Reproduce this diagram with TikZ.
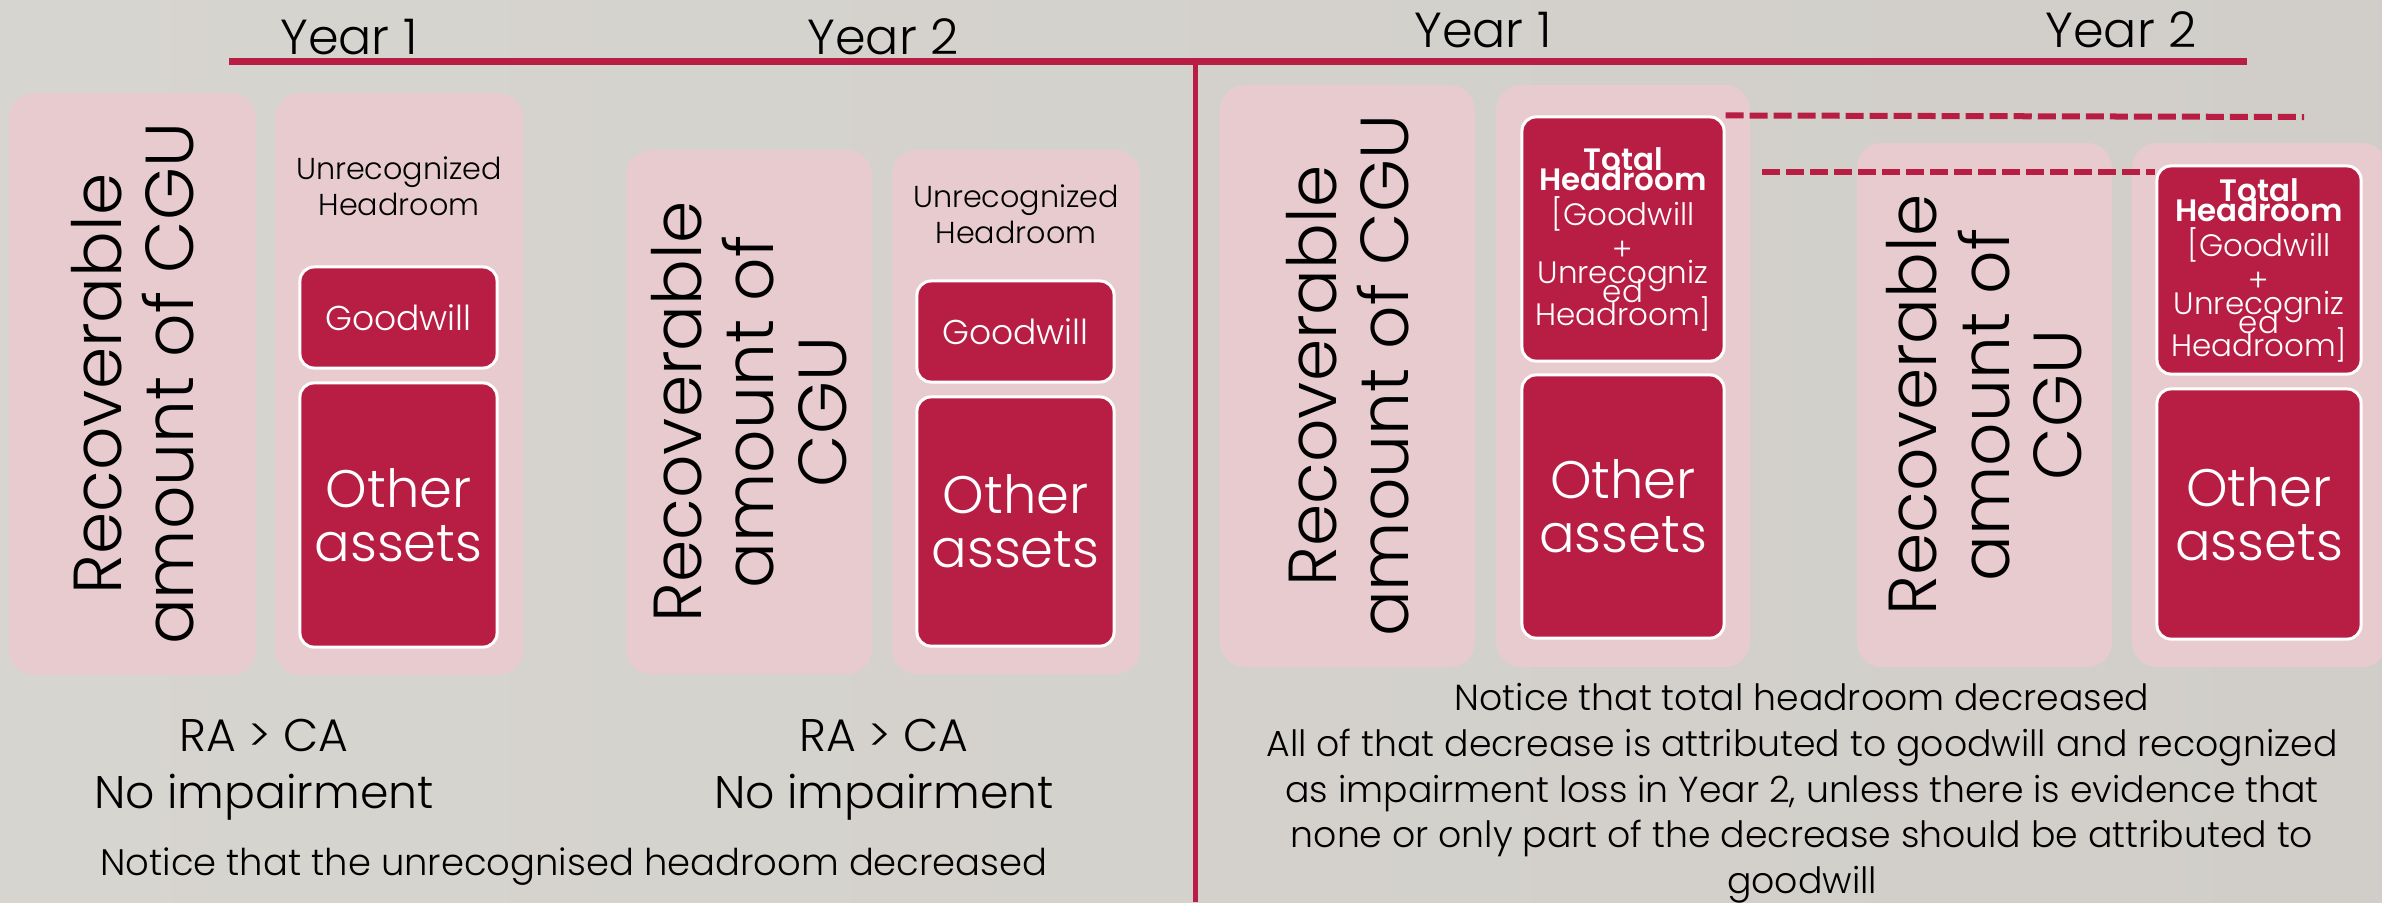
\documentclass[tikz,border=0pt]{standalone}
\usepackage{fontspec}
\setmainfont{Poppins}[UprightFont=* Light, BoldFont=* SemiBold]
\definecolor{crimson}{RGB}{184,30,67}
\definecolor{blush}{RGB}{231,203,207}
\definecolor{paperL}{RGB}{215,213,208}
\definecolor{paperM}{RGB}{234,232,228}
\definecolor{paperR}{RGB}{209,206,201}

\newcommand{\totalheadroom}{%
  \textbf{Total}\\[-4.3pt]\textbf{Headroom}\\{[}Goodwill\\+\\[-3.5pt]%
  Unrecogniz\\[-4.6pt]ed\\[-3.5pt]Headroom]}

\begin{document}
\begin{tikzpicture}[
      x=0.01cm, y=-0.01cm,
      colbox/.style = {
        rectangle,
        fill=blush,
        rounded corners=0.25cm,
        inner sep=0pt
      },
      asset/.style = {
        rectangle,
        fill=crimson,
        draw=white,
        line width=0.03cm,
        rounded corners=0.14cm,
        text=white,
        align=center,
        inner sep=0pt
      },
      yearlabel/.style = {
        anchor=base,
        font=\fontsize{14}{16}\selectfont
      },
      cgu/.style = {
        rotate=90,
        align=center,
        font=\fontsize{19.3}{20.6}\selectfont
      },
      headroom/.style = {
        align=center,
        font=\fontsize{8.6}{10.2}\selectfont
      },
      notetext/.style = {
        anchor=base
      },
      divider/.style = {
        draw=crimson,
        line width=0.07cm
      },
      levelline/.style = {
        draw=crimson,
        line width=0.06cm,
        dash pattern=on 0.18cm off 0.06cm
      }
    ]
    \useasboundingbox (0,0) rectangle (2382,902);
    \clip (0,0) rectangle (2382,902);
    \shade[left color=paperL, middle color=paperM, right color=paperR]
      (0,0) rectangle (2382,902);

    % rules
    \coordinate (rule west) at (229,61);
    \coordinate (rule east) at (2247,61);
    \coordinate (split top) at (1195,61);
    \coordinate (split bottom) at (1195,902);
    \draw[divider] (rule west) -- (rule east);
    \draw[divider, line width=0.05cm] (split top) -- (split bottom);

    \foreach \name/\xpos/\ypos/\txt in {y1L/349/54/Year 1, y2L/883/54/Year 2,
                                       y1R/1483/47/Year 1, y2R/2121/47/Year 2} {
      \node[yearlabel] (\name) at (\xpos,\ypos) {\txt};
    }

    % pale columns
    \foreach \name/\xpos/\ypos/\w/\h in {ra1/132.5/384/247/582, col1/399/384/248/582,
                                        ra2/749/412/246/524, col2/1016/412/248/524,
                                        ra3/1347.5/376/255/582, col3/1623/376/254/582,
                                        ra4/1984.5/405/255/524, col4/2259.5/405/255/524} {
      \node[colbox, minimum width=\w*0.01cm, minimum height=\h*0.01cm] (\name) at (\xpos,\ypos) {};
    }

    \node[cgu] (ra1 text) at (ra1) {Recoverable\\amount of CGU};
    \node[cgu] (ra2 text) at (ra2) {Recoverable\\amount of\\CGU};
    \node[cgu] (ra3 text) at (ra3) {Recoverable\\amount of CGU};
    \node[cgu] (ra4 text) at (ra4) {Recoverable\\amount of\\CGU};

    % left half
    \node[headroom] (uh1) at (399,186) {Unrecognized\\Headroom};
    \node[headroom] (uh2) at (1016,214) {Unrecognized\\Headroom};
    \node[asset, minimum width=1.97cm, minimum height=1.01cm,
          font=\fontsize{9.8}{11}\selectfont] (gw1) at (398.5,317.5) {Goodwill};
    \node[asset, minimum width=1.97cm, minimum height=1.01cm,
          font=\fontsize{9.8}{11}\selectfont] (gw2) at (1015.5,331.5) {Goodwill};
    \node[asset, minimum width=1.97cm, minimum height=2.64cm,
          font=\fontsize{15}{15.4}\selectfont] (oa1) at (398.5,515) {Other\\assets};
    \node[asset, minimum width=1.97cm, minimum height=2.49cm,
          font=\fontsize{15}{15.4}\selectfont] (oa2) at (1015.5,521.5) {Other\\assets};

    % right half
    \node[asset, minimum width=2.02cm, minimum height=2.44cm,
          font=\fontsize{8.8}{10}\selectfont] (th3) at (1623,239) {\totalheadroom};
    \node[asset, minimum width=2.04cm, minimum height=2.08cm,
          font=\fontsize{8.8}{10}\selectfont] (th4) at (2259,270) {\totalheadroom};
    \node[asset, minimum width=2.02cm, minimum height=2.63cm,
          font=\fontsize{15}{15.4}\selectfont] (oa3) at (1623,506.5) {Other\\assets};
    \node[asset, minimum width=2.04cm, minimum height=2.50cm,
          font=\fontsize{15}{15.4}\selectfont] (oa4) at (2259,514) {Other\\assets};

    \coordinate (top gap) at (2304,117);
    \coordinate (low gap) at (1762,172);
    \draw[levelline] (th3.north east) -- (top gap);
    \draw[levelline] (low gap) -- (low gap -| th4.west);

    % notes
    \node[notetext, font=\fontsize{13}{15}\selectfont] (ca1) at (264,751) {RA > CA};
    \node[notetext, font=\fontsize{13}{15}\selectfont] (imp1) at (264,808) {No impairment};
    \node[notetext, font=\fontsize{13}{15}\selectfont] (ca2) at (884,751) {RA > CA};
    \node[notetext, font=\fontsize{13}{15}\selectfont] (imp2) at (884,808) {No impairment};
    \node[notetext, font=\fontsize{10.5}{12}\selectfont] (unrec note) at (574,875)
      {Notice that the unrecognised headroom decreased};
    \node[align=center, anchor=north, inner sep=0pt, font=\fontsize{10.3}{12.95}\selectfont]
      (total note) at (1802,683)
      {Notice that total headroom decreased\\
       All of that decrease is attributed to goodwill and recognized\\
       as impairment loss in Year 2, unless there is evidence that\\
       none or only part of the decrease should be attributed to\\
       goodwill};
\end{tikzpicture}
\end{document}
